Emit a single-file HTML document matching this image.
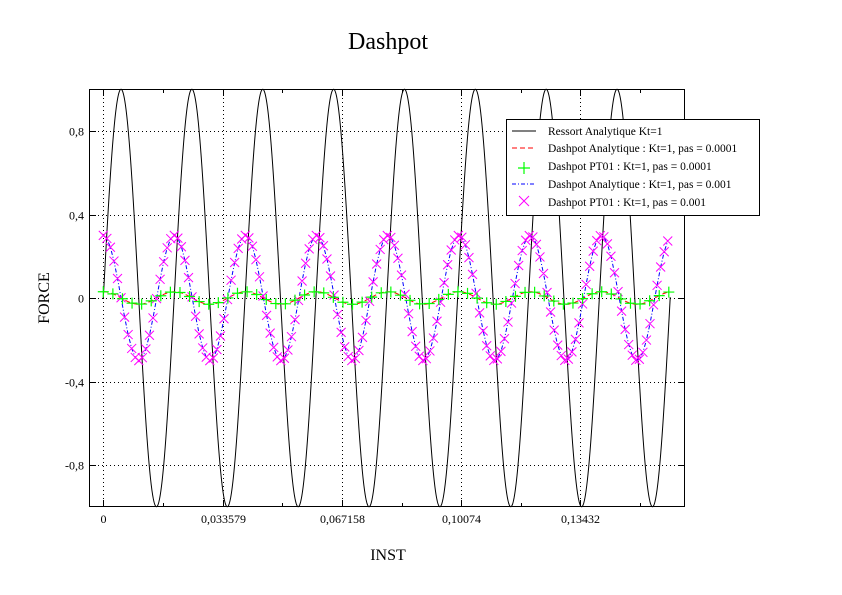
<!DOCTYPE html>
<html><head><meta charset="utf-8"><style>
html,body{margin:0;padding:0;background:#fff;}
svg{display:block;font-family:"Liberation Serif",serif;}
</style></head><body>
<svg id="s" width="842" height="595" xmlns="http://www.w3.org/2000/svg">
<rect width="842" height="595" fill="#fff"/>
<text x="388" y="49" font-size="24" text-anchor="middle">Dashpot</text>
<text x="388" y="560" font-size="16" text-anchor="middle">INST</text>
<text x="49" y="298" font-size="16" text-anchor="middle" transform="rotate(-90 49 298)">FORCE</text>
<g id="grid" stroke="#000" stroke-width="1" stroke-dasharray="1,3"></g>
<g id="series"></g>
<rect x="89.5" y="89.5" width="595" height="417" fill="none" stroke="#000"/>
<g id="ticks" stroke="#000"></g>
<g font-size="12" id="labels"></g>
<g>
<rect x="506.5" y="119.5" width="253" height="96" fill="#fff" stroke="#000"/>
<line x1="512" y1="131" x2="536" y2="131" stroke="#000"/>
<line x1="512" y1="148" x2="536" y2="148" stroke="#f00" stroke-dasharray="5,3"/>
<line x1="512" y1="184" x2="536" y2="184" stroke="#00f" stroke-dasharray="4,2,1,2"/>
<path d="M518 168h12M524 162v12" stroke="#0f0" stroke-width="1.2"/>
<path d="M519 196l10 10M529 196l-10 10" stroke="#f0f"/>
<g font-size="11.5">
<text x="548" y="135">Ressort Analytique Kt=1</text>
<text x="548" y="152">Dashpot Analytique : Kt=1, pas = 0.0001</text>
<text x="548" y="170">Dashpot PT01 : Kt=1, pas = 0.0001</text>
<text x="548" y="188">Dashpot Analytique : Kt=1, pas = 0.001</text>
<text x="548" y="206">Dashpot PT01 : Kt=1, pas = 0.001</text>
</g></g>
</svg>
<script>
var NS="http://www.w3.org/2000/svg";
function el(p,t,a){var e=document.createElementNS(NS,t);for(var k in a)e.setAttribute(k,a[k]);p.appendChild(e);return e;}
var X0=103.3,SX=3550,Y0=298,SY=208.75;
function px(t){return X0+t*SX;} function py(v){return Y0-v*SY;}
var w=2*Math.PI/0.019961, w2=2*Math.PI/0.020045;
var g=document.getElementById('grid'),s=document.getElementById('series'),tk=document.getElementById('ticks'),lb=document.getElementById('labels');
var xs=[0,0.033579,0.067158,0.10074,0.13432],xl=["0","0,033579","0,067158","0,10074","0,13432"];
xs.forEach(function(t,i){var x=Math.round(px(t))+0.5;el(g,'line',{x1:x,y1:90,x2:x,y2:506});
el(tk,'line',{x1:x,y1:506,x2:x,y2:500});el(tk,'line',{x1:x,y1:90,x2:x,y2:96});
var tx=el(lb,'text',{x:x,y:523,'text-anchor':'middle'});tx.textContent=xl[i];});
[0.8,0.4,0,-0.4,-0.8].forEach(function(v){var y=Math.round(py(v))+0.5;el(g,'line',{x1:90,y1:y,x2:684,y2:y});
el(tk,'line',{x1:90,y1:y,x2:96,y2:y});el(tk,'line',{x1:684,y1:y,x2:678,y2:y});
var tx=el(lb,'text',{x:84,y:y+4,'text-anchor':'end'});tx.textContent=(v==0?"0":String(v).replace('.',','));});
[0.0168,0.0504,0.0840,0.1176,0.1512].forEach(function(t){var x=Math.round(px(t))+0.5;
el(tk,'line',{x1:x,y1:506,x2:x,y2:503});el(tk,'line',{x1:x,y1:90,x2:x,y2:93});});
var T=0.1597;
function path(f,dt){var d="";for(var t=0;t<=T+1e-9;t+=dt){d+=(d?"L":"M")+px(t).toFixed(2)+" "+py(f(t)).toFixed(2);}return d;}
el(s,'path',{d:path(function(t){return Math.sin(w*t)},0.0001),fill:'none',stroke:'#000','stroke-width':1});
el(s,'path',{d:path(function(t){return 0.3*Math.cos(w2*t)},0.001),fill:'none',stroke:'#00f','stroke-width':1,'stroke-dasharray':'4,2,1,2'});
el(s,'path',{d:path(function(t){return 0.03*Math.cos(w2*t)},0.0001),fill:'none',stroke:'#f00','stroke-width':1,'stroke-dasharray':'5,3'});
var d="";for(var t=0;t<=T+1e-9;t+=0.001){var x=px(t),y=py(0.3*Math.cos(w2*t));d+="M"+(x-4.5)+" "+(y-4.5)+"l9 9M"+(x+4.5)+" "+(y-4.5)+"l-9 9";}
el(s,'path',{d:d,stroke:'#f0f',fill:'none','stroke-width':1});
d="";for(var t=0;t<=T+1e-9;t+=0.0027){var x=px(t),y=py(0.03*Math.cos(w2*t));d+="M"+(x-5.5)+" "+y+"h11M"+x+" "+(y-5.5)+"v11";}
el(s,'path',{d:d,stroke:'#0f0',fill:'none','stroke-width':1.2});
</script>
</body></html>
